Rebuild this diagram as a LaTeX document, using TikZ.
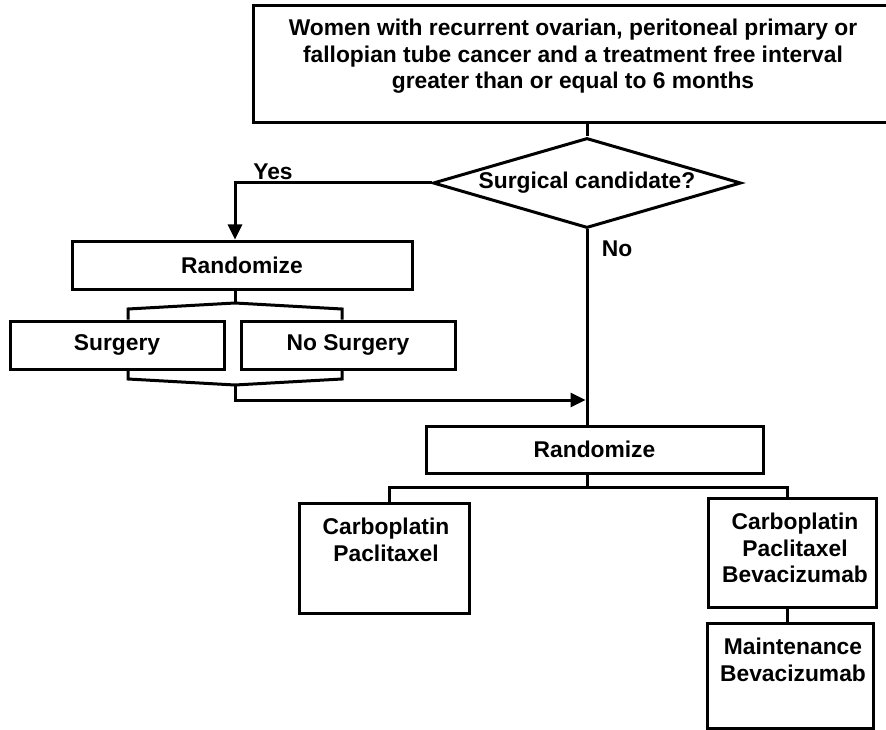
\documentclass[tikz,border=0pt]{standalone}
\usepackage{fontspec}
\setmainfont{Liberation Sans}
\usetikzlibrary{shapes.geometric, arrows.meta, positioning}
\newcommand{\flowfont}{\fontsize{22.8}{26.5}\selectfont\bfseries}

\begin{document}
\begin{tikzpicture}[x=1pt, y=-1pt,
    box/.style={draw, line width=3pt, inner sep=0pt, font=\flowfont},
    txt/.style={inner sep=0pt, align=center, font=\flowfont},
    conn/.style={line width=3pt},
    arr/.style={line width=3pt, -{Triangle[length=15pt, width=14pt]}}]
    \useasboundingbox (0,0) rectangle (886,730);
    \clip (0,0) rectangle (886,730);

    % entry criteria and decision
    \node[box, minimum width=650pt, minimum height=117pt] (pop) at (578,64.5) {};
    \node[txt, anchor=north] (popT) at (573,19) {Women with recurrent ovarian, peritoneal primary or\\fallopian tube cancer and a treatment free interval\\greater than or equal to 6 months};
    \node[box, diamond, aspect=3.4, minimum width=308pt, minimum height=90pt] (cand) at (587,183) {Surgical candidate?};
    \node[txt] (yes) at (273,172) {Yes};
    \node[txt] (no) at (617,249) {No};

    % surgical randomization
    \node[box, minimum width=340pt, minimum height=48pt] (rand1) at (242,265) {Randomize};
    \node[box, minimum width=214pt, minimum height=48pt] (surg) at (117,345) {Surgery};
    \node[box, minimum width=214pt, minimum height=48pt] (nosurg) at (348,345) {No Surgery};

    % chemotherapy randomization
    \node[box, minimum width=337pt, minimum height=47pt] (rand2) at (594.5,449.5) {Randomize};
    \node[box, minimum width=170pt, minimum height=110pt] (cp) at (384,558) {};
    \node[txt, anchor=north] (cpT) at (386,518) {Carboplatin\\Paclitaxel};
    \node[box, minimum width=168pt, minimum height=109pt] (cpb) at (792,552.5) {};
    \node[txt, anchor=north] (cpbT) at (795,513) {Carboplatin\\Paclitaxel\\Bevacizumab};
    \node[box, minimum width=166pt, minimum height=105pt] (mb) at (790,675.5) {};
    \node[txt, anchor=north] (mbT) at (793,638) {Maintenance\\Bevacizumab};

    \coordinate (brTop) at (235,303);
    \coordinate (brBot) at (235,385);
    \coordinate (split) at (587,487);

    \draw[conn] (cand.north |- 0,123) -- (cand.north);
    \draw[arr] (cand.west) -| ([xshift=-7pt]rand1.north);
    \draw[conn] (cand.south) -- (cand.south |- rand2.north);

    \draw[conn] ([xshift=-7pt]rand1.south) -- (brTop);
    \draw[conn] ([xshift=11pt]surg.north) -- ([xshift=11pt]surg.north |- 0,309) -- (brTop)
        -- ([xshift=-6pt]nosurg.north |- 0,309) -- ([xshift=-6pt]nosurg.north);
    \draw[conn] ([xshift=11pt]surg.south) -- ([xshift=11pt]surg.south |- 0,379) -- (brBot)
        -- ([xshift=-6pt]nosurg.south |- 0,379) -- ([xshift=-6pt]nosurg.south);
    \draw[arr] (brBot) |- ([xshift=-1.5pt]cand.south |- 0,400);

    \draw[conn] (cand.south |- rand2.south) -- (split);
    \draw[conn] ([xshift=5pt]cp.north) |- (split) -| ([xshift=-5pt]cpb.north);
    \draw[conn] ([xshift=-5pt]cpb.south) -- ([xshift=-5pt]cpb.south |- mb.north);
\end{tikzpicture}
\end{document}
